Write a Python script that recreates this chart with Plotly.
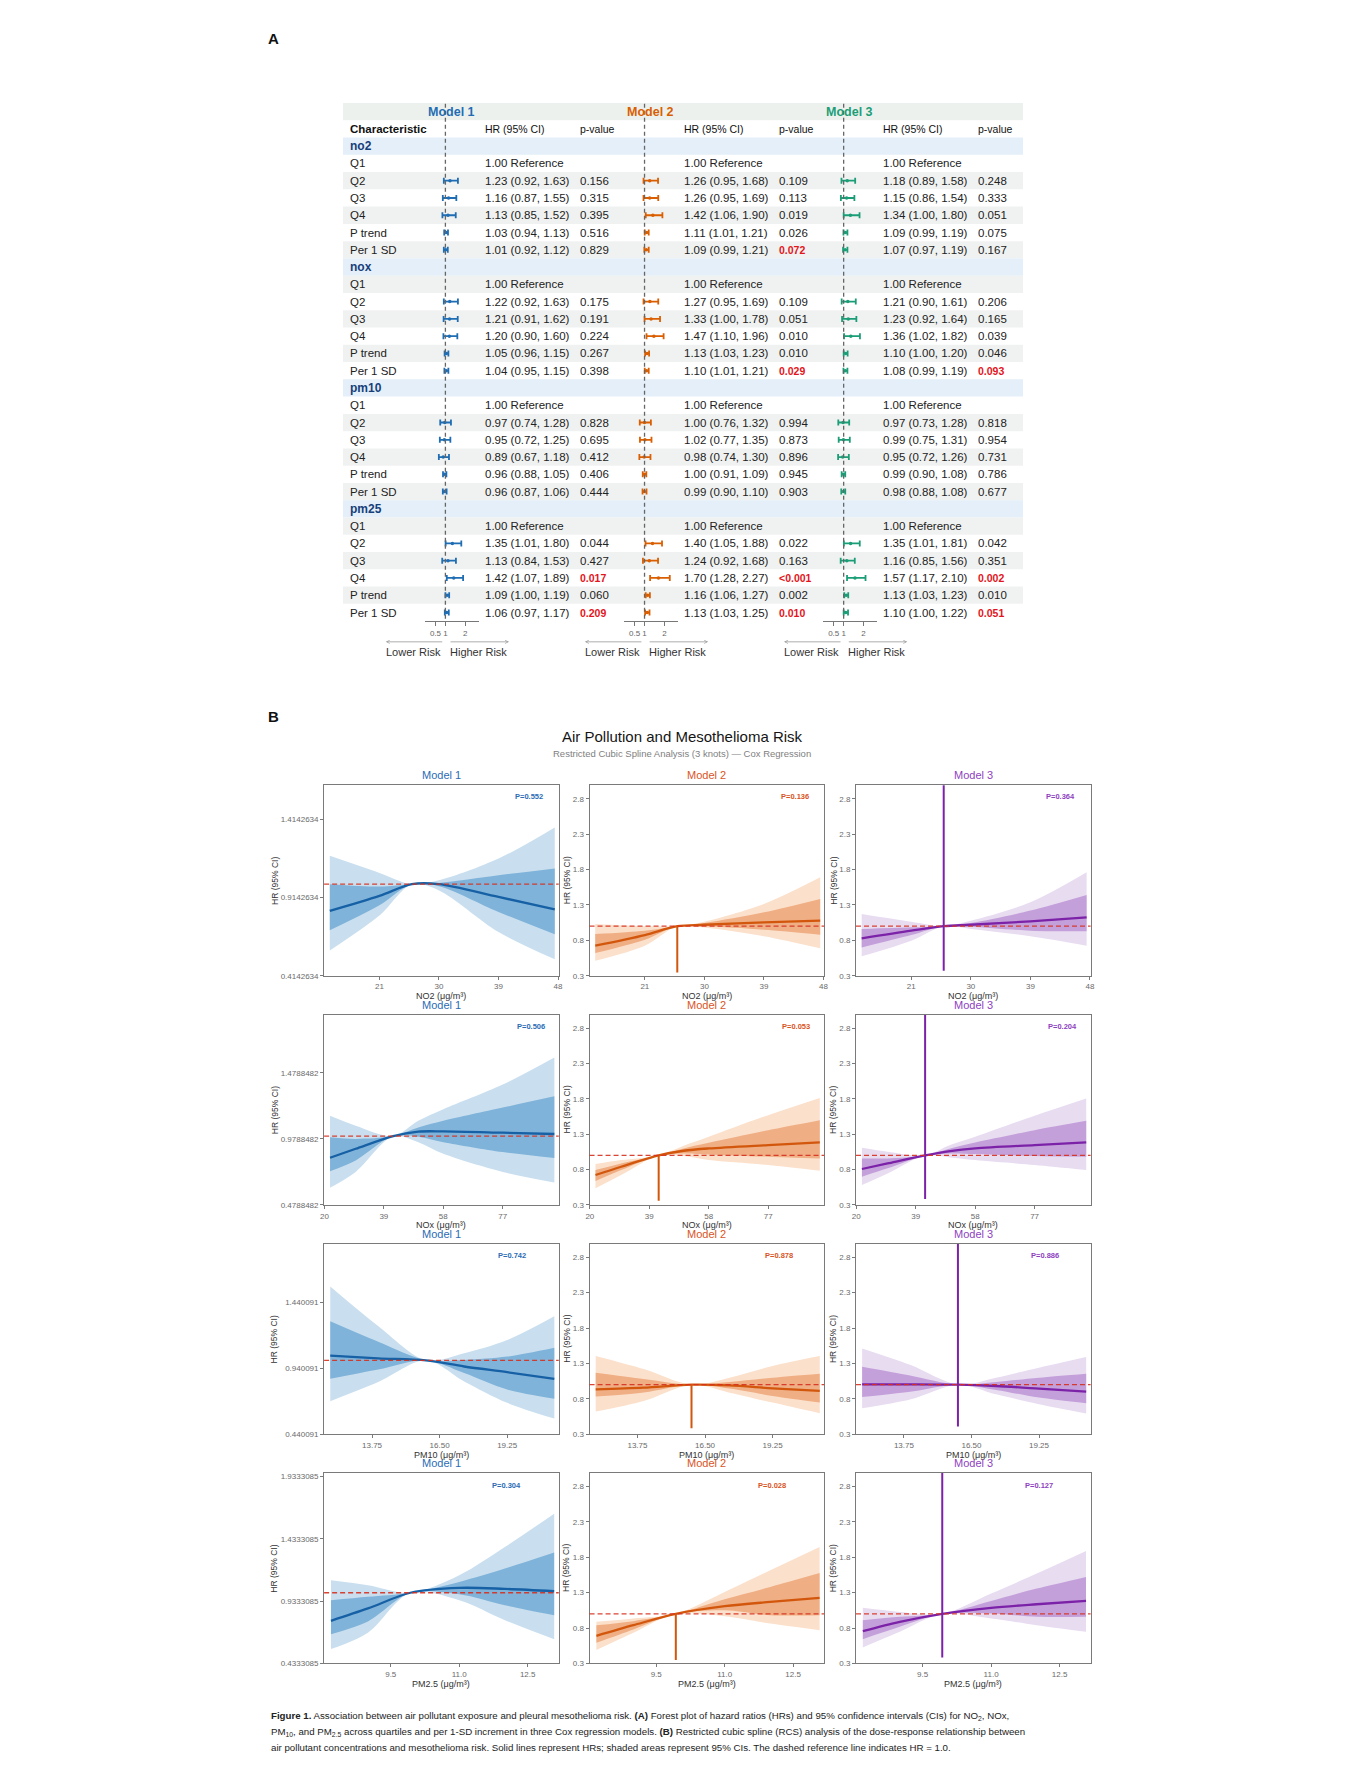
import plotly.graph_objects as go

W, H = 1366, 1789

# ================= Panel A data (forest table) =================
POLLUTANTS = ["no2", "nox", "pm10", "pm25"]
ROW_LABELS = ["Q1", "Q2", "Q3", "Q4", "P trend", "Per 1 SD"]
MODEL_NAMES = ["Model 1", "Model 2", "Model 3"]

# values for rows Q2, Q3, Q4, P trend, Per 1 SD of no2, nox, pm10, pm25
M1_HR = [1.23, 1.16, 1.13, 1.03, 1.01, 1.22, 1.21, 1.20, 1.05, 1.04, 0.97, 0.95, 0.89, 0.96, 0.96, 1.35, 1.13, 1.42, 1.09, 1.06]
M1_LO = [0.92, 0.87, 0.85, 0.94, 0.92, 0.92, 0.91, 0.90, 0.96, 0.95, 0.74, 0.72, 0.67, 0.88, 0.87, 1.01, 0.84, 1.07, 1.00, 0.97]
M1_HI = [1.63, 1.55, 1.52, 1.13, 1.12, 1.63, 1.62, 1.60, 1.15, 1.15, 1.28, 1.25, 1.18, 1.05, 1.06, 1.80, 1.53, 1.89, 1.19, 1.17]
M1_P = ["0.156", "0.315", "0.395", "0.516", "0.829", "0.175", "0.191", "0.224", "0.267", "0.398",
        "0.828", "0.695", "0.412", "0.406", "0.444", "0.044", "0.427", "0.017", "0.060", "0.209"]
M1_RED = [0, 0, 0, 0, 0, 0, 0, 0, 0, 0, 0, 0, 0, 0, 0, 0, 0, 1, 0, 1]

M2_HR = [1.26, 1.26, 1.42, 1.11, 1.09, 1.27, 1.33, 1.47, 1.13, 1.10, 1.00, 1.02, 0.98, 1.00, 0.99, 1.40, 1.24, 1.70, 1.16, 1.13]
M2_LO = [0.95, 0.95, 1.06, 1.01, 0.99, 0.95, 1.00, 1.10, 1.03, 1.01, 0.76, 0.77, 0.74, 0.91, 0.90, 1.05, 0.92, 1.28, 1.06, 1.03]
M2_HI = [1.68, 1.69, 1.90, 1.21, 1.21, 1.69, 1.78, 1.96, 1.23, 1.21, 1.32, 1.35, 1.30, 1.09, 1.10, 1.88, 1.68, 2.27, 1.27, 1.25]
M2_P = ["0.109", "0.113", "0.019", "0.026", "0.072", "0.109", "0.051", "0.010", "0.010", "0.029",
        "0.994", "0.873", "0.896", "0.945", "0.903", "0.022", "0.163", "<0.001", "0.002", "0.010"]
M2_RED = [0, 0, 0, 0, 1, 0, 0, 0, 0, 1, 0, 0, 0, 0, 0, 0, 0, 1, 0, 1]

M3_HR = [1.18, 1.15, 1.34, 1.09, 1.07, 1.21, 1.23, 1.36, 1.10, 1.08, 0.97, 0.99, 0.95, 0.99, 0.98, 1.35, 1.16, 1.57, 1.13, 1.10]
M3_LO = [0.89, 0.86, 1.00, 0.99, 0.97, 0.90, 0.92, 1.02, 1.00, 0.99, 0.73, 0.75, 0.72, 0.90, 0.88, 1.01, 0.85, 1.17, 1.03, 1.00]
M3_HI = [1.58, 1.54, 1.80, 1.19, 1.19, 1.61, 1.64, 1.82, 1.20, 1.19, 1.28, 1.31, 1.26, 1.08, 1.08, 1.81, 1.56, 2.10, 1.23, 1.22]
M3_P = ["0.248", "0.333", "0.051", "0.075", "0.167", "0.206", "0.165", "0.039", "0.046", "0.093",
        "0.818", "0.954", "0.731", "0.786", "0.677", "0.042", "0.351", "0.002", "0.010", "0.051"]
M3_RED = [0, 0, 0, 0, 0, 0, 0, 0, 0, 1, 0, 0, 0, 0, 0, 0, 0, 1, 0, 1]

FOREST_TICKS = [0.5, 1, 2]
FOREST_TICK_TEXT = ["0.5", "1", "2"]

# ================= Panel B data (restricted cubic splines) =================
NO2_X = [13.5, 21.0, 25.9, 30.0, 39.0, 47.5]
NO2_M1_HR = [0.829, 0.925, 1.0, 1.0, 0.918, 0.839]
NO2_M1_OUT_LO = [0.576, 0.80, 1.0, 0.96, 0.694, 0.519]
NO2_M1_OUT_HI = [1.181, 1.072, 1.0, 1.025, 1.164, 1.363]
NO2_M1_IN_LO = [0.705, 0.865, 1.0, 0.987, 0.822, 0.679]
NO2_M1_IN_HI = [1.0, 0.985, 1.0, 1.008, 1.057, 1.10]
NO2_M2_HR = [0.725, 0.875, 1.0, 1.02, 1.055, 1.078]
NO2_M2_OUT_LO = [0.512, 0.725, 1.0, 0.98, 0.857, 0.687]
NO2_M2_OUT_HI = [1.031, 1.0, 1.0, 1.064, 1.314, 1.69]
NO2_M2_IN_LO = [0.62, 0.81, 1.0, 0.998, 0.95, 0.88]
NO2_M2_IN_HI = [0.89, 0.937, 1.0, 1.045, 1.196, 1.385]
NO2_M3_HR = [0.828, 0.937, 1.0, 1.02, 1.069, 1.125]
NO2_M3_OUT_LO = [0.574, 0.795, 1.0, 0.96, 0.857, 0.725]
NO2_M3_OUT_HI = [1.173, 1.064, 1.0, 1.078, 1.338, 1.762]
NO2_M3_IN_LO = [0.70, 0.875, 1.0, 0.993, 0.937, 0.927]
NO2_M3_IN_HI = [0.96, 0.984, 1.0, 1.045, 1.22, 1.44]
NO2_REF = 25.9
NO2_SPIKE_M2 = [0.347, 1.0]
NO2_SPIKE_M3 = [0.37, 3.2]

NOX_X = [21.8, 30.0, 42.0, 50.0, 58.0, 77.0, 93.5]
NOX_M1_HR = [0.836, 0.904, 1.0, 1.034, 1.036, 1.026, 1.016]
NOX_M1_OUT_LO = [0.609, 0.729, 1.0, 0.954, 0.866, 0.729, 0.649]
NOX_M1_OUT_HI = [1.154, 1.079, 1.0, 1.116, 1.204, 1.391, 1.596]
NOX_M1_IN_LO = [0.734, 0.816, 1.0, 0.996, 0.954, 0.879, 0.834]
NOX_M1_IN_HI = [0.991, 0.979, 1.0, 1.066, 1.116, 1.216, 1.301]
NOX_M2_HR = [0.723, 0.84, 1.0, 1.066, 1.099, 1.146, 1.183]
NOX_M2_OUT_LO = [0.535, 0.723, 1.0, 0.99, 0.934, 0.864, 0.784]
NOX_M2_OUT_HI = [0.878, 0.934, 1.0, 1.136, 1.263, 1.569, 1.813]
NOX_M2_IN_LO = [0.638, 0.793, 1.0, 1.028, 1.014, 0.981, 0.958]
NOX_M2_IN_HI = [0.793, 0.887, 1.0, 1.099, 1.179, 1.357, 1.498]
NOX_M3_HR = [0.808, 0.887, 1.0, 1.061, 1.099, 1.146, 1.183]
NOX_M3_OUT_LO = [0.582, 0.746, 1.0, 0.972, 0.934, 0.864, 0.793]
NOX_M3_OUT_HI = [1.108, 1.052, 1.0, 1.146, 1.263, 1.56, 1.804]
NOX_M3_IN_LO = [0.70, 0.817, 1.0, 1.028, 1.019, 0.99, 0.981]
NOX_M3_IN_HI = [0.958, 0.958, 1.0, 1.099, 1.183, 1.357, 1.489]
NOX_REF = 42.0
NOX_SPIKE_M2 = [0.36, 1.0]
NOX_SPIKE_M3 = [0.385, 3.2]

PM10_X = [12.05, 14.0, 15.95, 17.5, 19.25, 21.17]
PM10_M1_HR = [1.035, 1.015, 1.0, 0.953, 0.91, 0.86]
PM10_M1_OUT_LO = [0.69, 0.835, 1.0, 0.84, 0.678, 0.558]
PM10_M1_OUT_HI = [1.56, 1.26, 1.0, 1.053, 1.153, 1.333]
PM10_M1_IN_LO = [0.86, 0.93, 1.0, 0.903, 0.778, 0.708]
PM10_M1_IN_HI = [1.295, 1.14, 1.0, 1.003, 1.028, 1.095]
PM10_M2_HR = [0.934, 0.958, 1.0, 0.99, 0.948, 0.911]
PM10_M2_OUT_LO = [0.62, 0.77, 1.0, 0.887, 0.746, 0.596]
PM10_M2_OUT_HI = [1.404, 1.22, 1.0, 1.099, 1.263, 1.404]
PM10_M2_IN_LO = [0.831, 0.89, 1.0, 0.944, 0.84, 0.746]
PM10_M2_IN_HI = [1.169, 1.08, 1.0, 1.038, 1.099, 1.155]
PM10_M3_HR = [1.005, 1.005, 1.0, 0.981, 0.944, 0.90]
PM10_M3_OUT_LO = [0.667, 0.79, 1.0, 0.864, 0.723, 0.591]
PM10_M3_OUT_HI = [1.512, 1.28, 1.0, 1.099, 1.24, 1.39]
PM10_M3_IN_LO = [0.826, 0.90, 1.0, 0.925, 0.817, 0.737]
PM10_M3_IN_HI = [1.254, 1.13, 1.0, 1.038, 1.099, 1.155]
PM10_REF = 15.95
PM10_SPIKE_M2 = [0.385, 1.0]
PM10_SPIKE_M3 = [0.408, 3.2]

PM25_X = [8.19, 9.0, 9.93, 11.0, 12.0, 13.08]
PM25_M1_HR = [0.775, 0.874, 1.0, 1.039, 1.031, 1.012]
PM25_M1_OUT_LO = [0.548, 0.68, 1.0, 0.94, 0.78, 0.628]
PM25_M1_OUT_HI = [1.10, 1.061, 1.0, 1.141, 1.367, 1.634]
PM25_M1_IN_LO = [0.668, 0.77, 1.0, 0.988, 0.90, 0.82]
PM25_M1_IN_HI = [0.94, 0.967, 1.0, 1.087, 1.194, 1.322]
PM25_M2_HR = [0.69, 0.84, 1.0, 1.108, 1.169, 1.226]
PM25_M2_OUT_LO = [0.488, 0.732, 1.0, 0.967, 0.864, 0.77]
PM25_M2_OUT_HI = [0.887, 0.934, 1.0, 1.31, 1.616, 1.945]
PM25_M2_IN_LO = [0.591, 0.779, 1.0, 1.052, 0.981, 0.981]
PM25_M2_IN_HI = [0.84, 0.897, 1.0, 1.207, 1.381, 1.578]
PM25_M3_HR = [0.756, 0.887, 1.0, 1.085, 1.136, 1.183]
PM25_M3_OUT_LO = [0.526, 0.746, 1.0, 0.934, 0.84, 0.746]
PM25_M3_OUT_HI = [1.085, 1.028, 1.0, 1.287, 1.569, 1.888]
PM25_M3_IN_LO = [0.643, 0.817, 1.0, 1.005, 0.958, 0.958]
PM25_M3_IN_HI = [0.911, 0.958, 1.0, 1.183, 1.357, 1.522]
PM25_REF = 9.93
PM25_SPIKE_M2 = [0.347, 1.0]
PM25_SPIKE_M3 = [0.385, 3.2]

# axis ticks / ranges
NO2_XTICKS = [21, 30, 39, 48]
NOX_XTICKS = [20, 39, 58, 77]
PM10_XTICKS = [13.75, 16.50, 19.25]
PM10_XTICK_TEXT = ["13.75", "16.50", "19.25"]
PM25_XTICKS = [9.5, 11.0, 12.5]
PM25_XTICK_TEXT = ["9.5", "11.0", "12.5"]
NO2_XRANGE = [12.64, 48.1]
NOX_XRANGE = [19.9, 94.9]
PM10_XRANGE = [11.8, 21.35]
PM25_XRANGE = [8.04, 13.18]

NO2_M1_YTICKS = [0.4142634, 0.9142634, 1.4142634]
NOX_M1_YTICKS = [0.4788482, 0.9788482, 1.4788482]
PM10_M1_YTICKS = [0.440091, 0.940091, 1.440091]
PM25_M1_YTICKS = [0.4333085, 0.9333085, 1.4333085, 1.9333085]
NO2_M1_YTICK_TEXT = ["0.4142634", "0.9142634", "1.4142634"]
NOX_M1_YTICK_TEXT = ["0.4788482", "0.9788482", "1.4788482"]
PM10_M1_YTICK_TEXT = ["0.440091", "0.940091", "1.440091"]
PM25_M1_YTICK_TEXT = ["0.4333085", "0.9333085", "1.4333085", "1.9333085"]
NO2_M1_YRANGE = [0.4142634, 1.632]
NOX_M1_YRANGE = [0.4788482, 1.92]
PM10_M1_YRANGE = [0.440091, 1.8826]
PM25_M1_YRANGE = [0.4333085, 1.96]
M23_YTICKS = [0.3, 0.8, 1.3, 1.8, 2.3, 2.8]
M23_YTICK_TEXT = ["0.3", "0.8", "1.3", "1.8", "2.3", "2.8"]
M23_YRANGE = [0.3, 2.99]

NO2_P = ["P=0.552", "P=0.136", "P=0.364"]
NOX_P = ["P=0.506", "P=0.053", "P=0.204"]
PM10_P = ["P=0.742", "P=0.878", "P=0.886"]
PM25_P = ["P=0.304", "P=0.028", "P=0.127"]
X_TITLES = ["NO2 (μg/m³)", "NOx (μg/m³)", "PM10 (μg/m³)", "PM2.5 (μg/m³)"]

# ================= build =================
FONT = "Liberation Sans, Arial, Helvetica, sans-serif"


def PX(x):
    return x / W


def PY(y):
    return 1 - y / H


fig = go.Figure()
shapes = []
ann = []
lay = {}

FOREST = [(M1_HR, M1_LO, M1_HI, M1_P, M1_RED),
          (M2_HR, M2_LO, M2_HI, M2_P, M2_RED),
          (M3_HR, M3_LO, M3_HI, M3_P, M3_RED)]
A_COLORS = ["#1f6db3", "#d95f02", "#1b9e77"]

rows = [("model", ""), ("char", "Characteristic")]
for pol in POLLUTANTS:
    rows.append(("group", pol))
    for lab in ROW_LABELS:
        rows.append(("item", lab))
NR = len(rows)
ROW0, ROWH = 111.0, 17.33
y_top = ROW0 - ROWH / 2
y_bot = ROW0 + ROWH * (NR - 0.5)
lay["yaxis"] = dict(domain=[PY(y_bot), PY(y_top)], range=[NR - 0.5, -0.5], visible=False, fixedrange=True)

TBL_L, TBL_R = 341, 1025
for i, (kind, lab) in enumerate(rows):
    if kind == "model":
        col = "#edf1ee"
    elif kind == "group":
        col = "#e4eff9"
    elif kind == "item" and i % 2 == 0:
        col = "#f0f2f1"
    else:
        col = None
    if col:
        shapes.append(dict(type="rect", xref="paper", yref="y", x0=PX(TBL_L), x1=PX(TBL_R),
                           y0=i - 0.5, y1=i + 0.5, fillcolor=col, line=dict(width=0), layer="below"))
    if kind == "char":
        ann.append(dict(x=PX(346), y=i, xref="paper", yref="y", text="<b>Characteristic</b>", showarrow=False,
                        xanchor="left", font=dict(size=11.5, color="#111")))
    elif kind == "group":
        ann.append(dict(x=PX(346), y=i, xref="paper", yref="y", text="<b>%s</b>" % lab, showarrow=False,
                        xanchor="left", font=dict(size=12, color="#173f7a")))
    elif kind == "item":
        ann.append(dict(x=PX(346), y=i, xref="paper", yref="y", text=lab, showarrow=False,
                        xanchor="left", font=dict(size=11.5, color="#222")))

for m in range(3):
    hr, lo, hi, pv, red = FOREST[m]
    off = 200.3 * m
    xa = "x" if m == 0 else "x%d" % (m + 1)
    key = "xaxis" if m == 0 else "xaxis%d" % (m + 1)
    lay[key] = dict(domain=[PX(423 + off), PX(478 + off)], range=[-0.05, 2.7], anchor="y",
                    tickvals=FOREST_TICKS, ticktext=FOREST_TICK_TEXT, tickangle=0, showline=True,
                    linecolor="#777", linewidth=0.8, ticks="outside", ticklen=4, tickcolor="#777",
                    tickwidth=0.8, tickfont=dict(size=8, color="#666"), showgrid=False, zeroline=False,
                    fixedrange=True)
    # header
    ann.append(dict(x=PX(450 + off), y=0, xref="paper", yref="y", text="<b>%s</b>" % MODEL_NAMES[m],
                    showarrow=False, font=dict(size=12.5, color=A_COLORS[m])))
    ann.append(dict(x=PX(482 + off), y=1, xref="paper", yref="y", text="HR (95% CI)", showarrow=False,
                    xanchor="left", font=dict(size=10.5, color="#111")))
    ann.append(dict(x=PX(577 + off), y=1, xref="paper", yref="y", text="p-value", showarrow=False,
                    xanchor="left", font=dict(size=10.5, color="#111")))
    shapes.append(dict(type="line", xref=xa, yref="y", x0=1, x1=1, y0=-0.45, y1=NR - 0.5,
                       line=dict(color="#666", width=1.3, dash="4px,3px")))
    ys, xs, em, ep = [], [], [], []
    for g in range(len(POLLUTANTS)):
        base = 2 + g * 7
        ann.append(dict(x=PX(482 + off), y=base + 1, xref="paper", yref="y", text="1.00 Reference",
                        showarrow=False, xanchor="left", font=dict(size=11.5, color="#222")))
        for j in range(5):
            k = g * 5 + j
            r = base + 2 + j
            ys.append(r)
            xs.append(hr[k])
            em.append(hr[k] - lo[k])
            ep.append(hi[k] - hr[k])
            ann.append(dict(x=PX(482 + off), y=r, xref="paper", yref="y",
                            text="%.2f (%.2f, %.2f)" % (hr[k], lo[k], hi[k]),
                            showarrow=False, xanchor="left", font=dict(size=11.5, color="#222")))
            if red[k]:
                ann.append(dict(x=PX(577 + off), y=r, xref="paper", yref="y", text="<b>%s</b>" % pv[k],
                                showarrow=False, xanchor="left", font=dict(size=10.5, color="#e3141b")))
            else:
                ann.append(dict(x=PX(577 + off), y=r, xref="paper", yref="y", text=pv[k],
                                showarrow=False, xanchor="left", font=dict(size=11.5, color="#222")))
    fig.add_trace(go.Scatter(x=xs, y=ys, xaxis=xa, yaxis="y", mode="markers",
                             marker=dict(size=3.5, color=A_COLORS[m]),
                             error_x=dict(type="data", array=ep, arrayminus=em, color=A_COLORS[m],
                                          thickness=1.8, width=3),
                             showlegend=False, hoverinfo="skip"))
    # risk arrows
    ann.append(dict(x=PX(384 + off), y=PY(643), xref="paper", yref="paper", ax=58, ay=0, text="",
                    showarrow=True, arrowhead=5, arrowsize=0.8, arrowwidth=0.8, arrowcolor="#999"))
    ann.append(dict(x=PX(508 + off), y=PY(643), xref="paper", yref="paper", ax=-60, ay=0, text="",
                    showarrow=True, arrowhead=5, arrowsize=0.8, arrowwidth=0.8, arrowcolor="#999"))
    ann.append(dict(x=PX(412 + off), y=PY(653), xref="paper", yref="paper", text="Lower Risk",
                    showarrow=False, font=dict(size=11, color="#333")))
    ann.append(dict(x=PX(477 + off), y=PY(653), xref="paper", yref="paper", text="Higher Risk",
                    showarrow=False, font=dict(size=11, color="#333")))

ann.append(dict(x=PX(264), y=PY(38), xref="paper", yref="paper", text="<b>A</b>", showarrow=False,
                xanchor="left", font=dict(size=15, color="#111")))
ann.append(dict(x=PX(264), y=PY(718), xref="paper", yref="paper", text="<b>B</b>", showarrow=False,
                xanchor="left", font=dict(size=15, color="#111")))

# ---------- panel B ----------
RCS = [
    dict(x=NO2_X, ref=NO2_REF, spikes=[None, NO2_SPIKE_M2, NO2_SPIKE_M3], p=NO2_P,
         xt=NO2_XTICKS, xtt=[str(v) for v in NO2_XTICKS], xr=NO2_XRANGE,
         yt1=NO2_M1_YTICKS, ytt1=NO2_M1_YTICK_TEXT, yr1=NO2_M1_YRANGE,
         models=[(NO2_M1_HR, NO2_M1_OUT_LO, NO2_M1_OUT_HI, NO2_M1_IN_LO, NO2_M1_IN_HI),
                 (NO2_M2_HR, NO2_M2_OUT_LO, NO2_M2_OUT_HI, NO2_M2_IN_LO, NO2_M2_IN_HI),
                 (NO2_M3_HR, NO2_M3_OUT_LO, NO2_M3_OUT_HI, NO2_M3_IN_LO, NO2_M3_IN_HI)]),
    dict(x=NOX_X, ref=NOX_REF, spikes=[None, NOX_SPIKE_M2, NOX_SPIKE_M3], p=NOX_P,
         xt=NOX_XTICKS, xtt=[str(v) for v in NOX_XTICKS], xr=NOX_XRANGE,
         yt1=NOX_M1_YTICKS, ytt1=NOX_M1_YTICK_TEXT, yr1=NOX_M1_YRANGE,
         models=[(NOX_M1_HR, NOX_M1_OUT_LO, NOX_M1_OUT_HI, NOX_M1_IN_LO, NOX_M1_IN_HI),
                 (NOX_M2_HR, NOX_M2_OUT_LO, NOX_M2_OUT_HI, NOX_M2_IN_LO, NOX_M2_IN_HI),
                 (NOX_M3_HR, NOX_M3_OUT_LO, NOX_M3_OUT_HI, NOX_M3_IN_LO, NOX_M3_IN_HI)]),
    dict(x=PM10_X, ref=PM10_REF, spikes=[None, PM10_SPIKE_M2, PM10_SPIKE_M3], p=PM10_P,
         xt=PM10_XTICKS, xtt=PM10_XTICK_TEXT, xr=PM10_XRANGE,
         yt1=PM10_M1_YTICKS, ytt1=PM10_M1_YTICK_TEXT, yr1=PM10_M1_YRANGE,
         models=[(PM10_M1_HR, PM10_M1_OUT_LO, PM10_M1_OUT_HI, PM10_M1_IN_LO, PM10_M1_IN_HI),
                 (PM10_M2_HR, PM10_M2_OUT_LO, PM10_M2_OUT_HI, PM10_M2_IN_LO, PM10_M2_IN_HI),
                 (PM10_M3_HR, PM10_M3_OUT_LO, PM10_M3_OUT_HI, PM10_M3_IN_LO, PM10_M3_IN_HI)]),
    dict(x=PM25_X, ref=PM25_REF, spikes=[None, PM25_SPIKE_M2, PM25_SPIKE_M3], p=PM25_P,
         xt=PM25_XTICKS, xtt=PM25_XTICK_TEXT, xr=PM25_XRANGE,
         yt1=PM25_M1_YTICKS, ytt1=PM25_M1_YTICK_TEXT, yr1=PM25_M1_YRANGE,
         models=[(PM25_M1_HR, PM25_M1_OUT_LO, PM25_M1_OUT_HI, PM25_M1_IN_LO, PM25_M1_IN_HI),
                 (PM25_M2_HR, PM25_M2_OUT_LO, PM25_M2_OUT_HI, PM25_M2_IN_LO, PM25_M2_IN_HI),
                 (PM25_M3_HR, PM25_M3_OUT_LO, PM25_M3_OUT_HI, PM25_M3_IN_LO, PM25_M3_IN_HI)]),
]
LINE_C = ["#1660a5", "#d2570c", "#7b22a8"]
OUTER_C = ["#c9dfef", "#fbe0cb", "#e8dcf1"]
INNER_C = ["#80b3d9", "#efae84", "#c4a0da"]
TITLE_C = ["#2b6cb5", "#d9541e", "#8e3fbf"]
COL_LEFT = [322, 589, 857]
ROW_TOP = [787, 1017, 1247, 1477]
PW, PH = 236, 191
P_POS = [[(528, 798), (796, 798), (1063, 798)],
         [(530, 1029), (797, 1029), (1065, 1029)],
         [(511, 1259), (780, 1259), (1047, 1259)],
         [(505, 1489), (773, 1489), (1041, 1489)]]

for gi, info in enumerate(RCS):
    for m in range(3):
        k = 4 + gi * 3 + m
        xid, yid = "x%d" % k, "y%d" % k
        L, T = COL_LEFT[m], ROW_TOP[gi]
        X = info["x"]
        hr, olo, ohi, ilo, ihi = info["models"][m]
        com = dict(xaxis=xid, yaxis=yid, mode="lines", showlegend=False, hoverinfo="skip")
        fig.add_trace(go.Scatter(x=X, y=olo, line=dict(width=0, shape="spline", smoothing=0.9), **com))
        fig.add_trace(go.Scatter(x=X, y=ohi, fill="tonexty", fillcolor=OUTER_C[m],
                                 line=dict(width=0, shape="spline", smoothing=0.9), **com))
        fig.add_trace(go.Scatter(x=X, y=ilo, line=dict(width=0, shape="spline", smoothing=0.9), **com))
        fig.add_trace(go.Scatter(x=X, y=ihi, fill="tonexty", fillcolor=INNER_C[m],
                                 line=dict(width=0, shape="spline", smoothing=0.9), **com))
        shapes.append(dict(type="line", xref="%s domain" % xid, yref=yid, x0=0, x1=1, y0=1, y1=1,
                           line=dict(color="#d7301f", width=1.3, dash="5px,3px"), opacity=0.9))
        fig.add_trace(go.Scatter(x=X, y=hr, line=dict(width=2.3, color=LINE_C[m], shape="spline",
                                                       smoothing=0.9), **com))
        sp = info["spikes"][m]
        if sp is not None:
            fig.add_trace(go.Scatter(x=[info["ref"], info["ref"]], y=sp,
                                     line=dict(width=2.0, color=LINE_C[m]), **com))
        if m == 0:
            yt, ytt, yr = info["yt1"], info["ytt1"], info["yr1"]
        else:
            yt, ytt, yr = M23_YTICKS, M23_YTICK_TEXT, M23_YRANGE
        axc = dict(showline=True, mirror=True, linecolor="#7a7a7a", linewidth=1, ticks="outside",
                   ticklen=3, tickcolor="#7a7a7a", tickwidth=0.8, tickfont=dict(size=8, color="#6a6a6a"),
                   showgrid=False, zeroline=False, fixedrange=True, tickangle=0)
        lay["xaxis%d" % k] = dict(domain=[PX(L), PX(L + PW)], anchor=yid, range=info["xr"],
                                  tickvals=info["xt"], ticktext=info["xtt"], **axc)
        lay["yaxis%d" % k] = dict(domain=[PY(T + PH), PY(T)], anchor=xid, range=yr,
                                  tickvals=yt, ticktext=ytt, **axc)
        ann.append(dict(x=PX(L + PW / 2), y=PY(T - 10), xref="paper", yref="paper", text=MODEL_NAMES[m],
                        showarrow=False, font=dict(size=11, color=TITLE_C[m])))
        ann.append(dict(x=PX(L + PW / 2), y=PY(T + PH + 20.5), xref="paper", yref="paper", text=X_TITLES[gi],
                        showarrow=False, font=dict(size=9, color="#333")))
        ann.append(dict(x=PX(L - (50 if m == 0 else 23)), y=PY(T + PH / 2), xref="paper", yref="paper",
                        text="HR (95% CI)", textangle=-90, showarrow=False, font=dict(size=8.5, color="#333")))
        px_, py_ = P_POS[gi][m]
        ann.append(dict(x=PX(px_), y=PY(py_), xref="paper", yref="paper", text="<b>%s</b>" % info["p"][m],
                        showarrow=False, font=dict(size=7.5, color=TITLE_C[m])))

ann.append(dict(x=PX(682), y=PY(738), xref="paper", yref="paper", text="Air Pollution and Mesothelioma Risk",
                showarrow=False, font=dict(size=15, color="#151515")))
ann.append(dict(x=PX(682), y=PY(755), xref="paper", yref="paper",
                text="Restricted Cubic Spline Analysis (3 knots) — Cox Regression",
                showarrow=False, font=dict(size=9.5, color="#808080")))

CAPTION = [
    "<b>Figure 1.</b> Association between air pollutant exposure and pleural mesothelioma risk. <b>(A)</b> Forest plot of hazard ratios (HRs) and 95% confidence intervals (CIs) for NO<sub>2</sub>, NOx,",
    "PM<sub>10</sub>, and PM<sub>2.5</sub> across quartiles and per 1-SD increment in three Cox regression models. <b>(B)</b> Restricted cubic spline (RCS) analysis of the dose-response relationship between",
    "air pollutant concentrations and mesothelioma risk. Solid lines represent HRs; shaded areas represent 95% CIs. The dashed reference line indicates HR = 1.0.",
]
for li, line in enumerate(CAPTION):
    ann.append(dict(x=PX(267), y=PY(1721 + 15.5 * li), xref="paper", yref="paper", text=line, showarrow=False,
                    xanchor="left", font=dict(size=9.7, color="#222")))

for a in ann:
    a.setdefault("xanchor", "center")
    a.setdefault("yanchor", "middle")

fig.update_layout(**lay)
fig.update_layout(width=W, height=H, margin=dict(l=0, r=0, t=0, b=0), paper_bgcolor="white",
                  plot_bgcolor="rgba(0,0,0,0)", shapes=shapes, annotations=ann,
                  font=dict(family=FONT, color="#222"), showlegend=False)

fig.write_html("out.html", config={"displayModeBar": False},
               post_script="document.body.style.margin='0px';")
